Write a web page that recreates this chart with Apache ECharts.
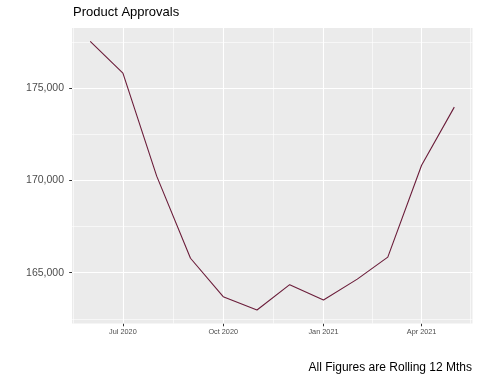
<!DOCTYPE html>
<html>
<head>
<meta charset="utf-8">
<style>html,body{margin:0;padding:0;background:#fff;}#c{width:480px;height:384px;}</style>
<script src="https://cdn.jsdelivr.net/npm/echarts@6/dist/echarts.min.js"></script>
</head>
<body>
<div id="c"></div>
<script>
var months = ['2020-06-01','2020-07-01','2020-08-01','2020-09-01','2020-10-01','2020-11-01','2020-12-01','2021-01-01','2021-02-01','2021-03-01','2021-04-01','2021-05-01'];
var approvals = [177530, 175815, 170230, 165780, 163700, 162975, 164350, 163520, 164650, 165840, 170820, 173970];
var xTickDates = ['2020-07-01','2020-10-01','2021-01-01','2021-04-01'];
var xTickLabels = ['Jul 2020','Oct 2020','Jan 2021','Apr 2021'];
var xMinorDates = ['2020-05-16','2020-08-16','2020-11-16','2021-02-15','2021-05-16'];
var yTicks = [165000, 170000, 175000];
var yMinor = [162500, 167500, 172500, 177500];
var yTickLabels = ['165,000','170,000','175,000'];
var titleText = 'Product Approvals';
var captionText = 'All Figures are Rolling 12 Mths';

// x positions expressed as days since 2020-01-01 (UTC)
var DAY = 86400000;
var EPOCH = Date.UTC(2020,0,1);
function toDay(s){var p=s.split('-');return (Date.UTC(+p[0],+p[1]-1,+p[2]) - EPOCH)/DAY;}
var xMin = toDay(months[0]) - 16.7;
var xMax = toDay(months[months.length-1]) + 16.7;
var xTickVals = xTickDates.map(toDay);

var lineData = months.map(function(m,i){return [toDay(m), approvals[i]];});
var gridLines = [];
xMinorDates.forEach(function(d){gridLines.push({xAxis: toDay(d), lineStyle:{color:'#ffffff', width:0.6, type:'solid'}});});
yMinor.forEach(function(v){gridLines.push({yAxis: v, lineStyle:{color:'#ffffff', width:0.6, type:'solid'}});});
xTickVals.forEach(function(d){gridLines.push({xAxis: d, lineStyle:{color:'#ffffff', width:1.1, type:'solid'}});});
yTicks.forEach(function(v){gridLines.push({yAxis: v, lineStyle:{color:'#ffffff', width:1.1, type:'solid'}});});

var chart = echarts.init(document.getElementById('c'), null, {renderer:'canvas'});
chart.setOption({
  animation: false,
  backgroundColor: '#ffffff',
  textStyle: {fontFamily: 'Liberation Sans'},
  grid: {left: 72, right: 7.5, top: 28, bottom: 60.5, show: true, backgroundColor: '#EBEBEB', borderWidth: 0, containLabel: false},
  xAxis: {
    type: 'value', min: xMin, max: xMax,
    axisLine: {show: false},
    splitLine: {show: false},
    axisTick: {show: true, length: 2.8, lineStyle: {color: '#333333', width: 1}, customValues: xTickVals},
    axisLabel: {customValues: xTickVals, color: '#4D4D4D', fontSize: 7.3, fontFamily: 'Liberation Sans', margin: 5,
      formatter: function(v){var i=-1; for(var k=0;k<xTickVals.length;k++){if(Math.abs(xTickVals[k]-v)<0.5) i=k;} return i>=0?xTickLabels[i]:'';}
    }
  },
  yAxis: {
    type: 'value', min: 162245, max: 178258,
    axisLine: {show: false},
    splitLine: {show: false},
    axisTick: {show: true, length: 2.8, lineStyle: {color: '#333333', width: 1}, customValues: yTicks},
    axisLabel: {customValues: yTicks, color: '#4D4D4D', fontSize: 10.5, fontFamily: 'Liberation Sans', margin: 8,
      formatter: function(v){var i=yTicks.indexOf(v); return i>=0?yTickLabels[i]:'';}
    }
  },
  graphic: [
    {type:'text', left: 73, top: 5.5, style:{text: titleText, fill:'#000000', font: '13px "Liberation Sans"'}},
    {type:'text', right: 8, top: 362, style:{text: captionText, fill:'#000000', font: '12px "Liberation Sans"'}}
  ],
  series: [
    {type: 'line', data: [], z: 1, silent: true,
     markLine: {z: 1, silent: true, symbol: ['none','none'], label: {show: false}, animation: false, data: gridLines}},
    {type: 'line', data: lineData, z: 3, showSymbol: false, symbol: 'none', silent: true,
     lineStyle: {color: '#6B1D3A', width: 1.1}}
  ]
});
</script>
</body>
</html>
